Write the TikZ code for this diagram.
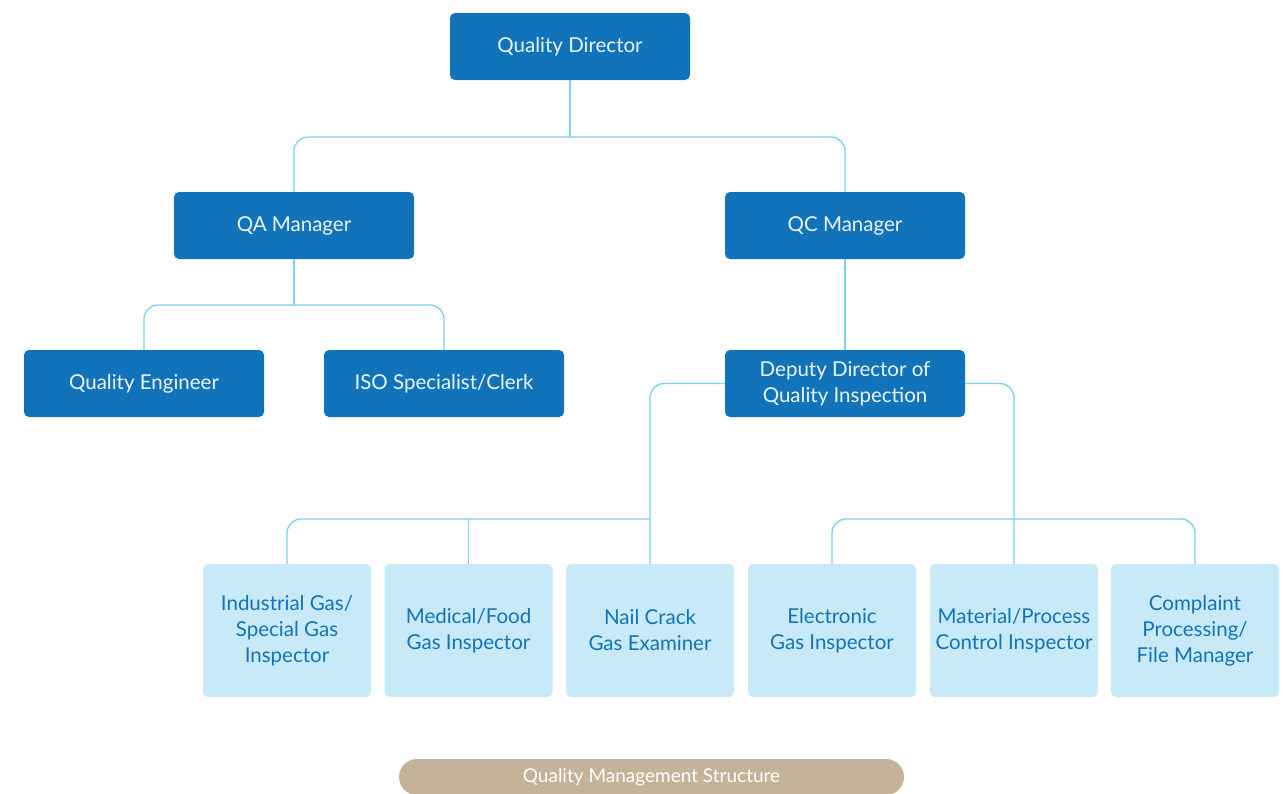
\documentclass[tikz,border=0pt]{standalone}
\usepackage{fontspec}
\setmainfont{Lato}
\usetikzlibrary{positioning}
\definecolor{darkbox}{RGB}{17,116,187}
\definecolor{lightbox}{RGB}{199,233,248}
\definecolor{linkblue}{RGB}{120,210,242}
\definecolor{pilltan}{RGB}{196,179,153}
\tikzset{
  manager/.style = { rectangle, rounded corners=5pt, fill=darkbox, text=white!92!darkbox,
                     minimum width=240pt, minimum height=67pt, align=center,
                     font=\fontsize{20.5}{26}\selectfont, inner sep=0pt },
  staff/.style   = { rectangle, rounded corners=5pt, fill=lightbox, text=darkbox,
                     minimum width=168pt, minimum height=133pt, align=center,
                     font=\fontsize{20.5}{26}\selectfont, inner sep=0pt },
  link/.style    = { linkblue, line width=1.3pt, rounded corners=14pt },
  caption/.style = { rectangle, rounded corners=18pt, fill=pilltan, text=white,
                     minimum width=505pt, minimum height=36pt,
                     font=\fontsize{19}{23}\selectfont }
}
\begin{document}
\begin{tikzpicture}[x=1pt,y=-1pt]
  \clip (0,0) rectangle (1287,793);
  \fill[white] (0,0) rectangle (1287,793);
  % Draw the managers
  \node[manager] (qd)  at (570,46.5)  {Quality Director};
  \node[manager] (qa)  at (294,225.5) {QA Manager};
  \node[manager] (qc)  at (845,225.5) {QC Manager};
  \node[manager] (eng) at (144,383.5) {Quality Engineer};
  \node[manager] (iso) at (444,383.5) {ISO Specialist/Clerk};
  \node[manager] (dd)  at (845,383.5) {Deputy Director of\\Quality Inspection};
  % Draw the inspectors
  \node[staff] (ind)  at (287,630.5)  {Industrial Gas/\\Special Gas\\Inspector};
  \node[staff] (med)  at (468.5,630.5) {Medical/Food\\Gas Inspector};
  \node[staff] (nail) at (650,630.5)  {Nail Crack\\Gas Examiner};
  \node[staff] (elec) at (832,630.5)  {Electronic\\Gas Inspector};
  \node[staff] (mat)  at (1014,630.5) {Material/Process\\Control Inspector};
  \node[staff] (comp) at (1195,630.5) {Complaint\\Processing/\\File Manager};
  % Draw connectors
  \coordinate (topbus) at (570,137);
  \coordinate (qabus)  at (294,305);
  \coordinate (lbus)   at (650,519);
  \coordinate (rbus)   at (1014,519);
  \draw[link] (qd.south) -- (topbus);
  \draw[link] (qa.north) |- (topbus) -| (qc.north);
  \draw[link] (qa.south) -- (qabus);
  \draw[link] (eng.north) |- (qabus) -| (iso.north);
  \draw[link] (qc.south) -- (dd.north);
  \draw[link] (dd.west) -| (nail.north);
  \draw[link] (dd.east) -| (mat.north);
  \draw[link] (ind.north) |- (lbus);
  \draw[link] (med.north) -- (med.north |- lbus);
  \draw[link] (elec.north) |- (rbus) -| (comp.north);
  % Draw caption
  \node[caption] (cap) at (651.5,777) {Quality Management Structure};
\end{tikzpicture}
\end{document}
